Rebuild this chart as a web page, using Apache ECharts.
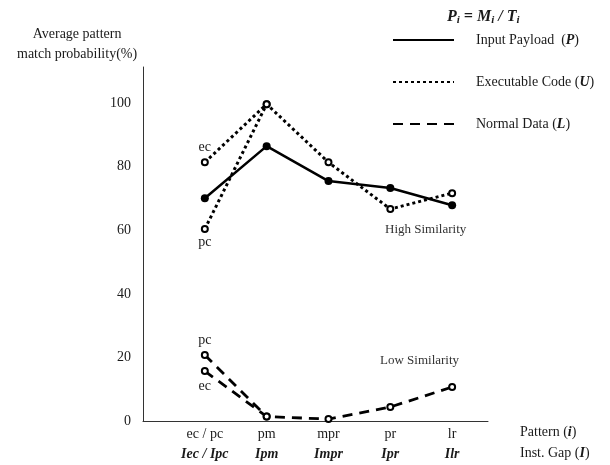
<!DOCTYPE html>
<html>
<head>
<meta charset="utf-8">
<script src="https://cdn.jsdelivr.net/npm/echarts@6/dist/echarts.min.js"></script>
<style>
  html, body { margin: 0; padding: 0; background: #fff; }
  #main { width: 610px; height: 465px; }
</style>
</head>
<body>
<div id="main"></div>
<script>
// pattern categories and instruction gap names
var categories = ['ec / pc', 'pm', 'mpr', 'pr', 'lr'];
var gapLabels = ['Iec / Ipc', 'Ipm', 'Impr', 'Ipr', 'Ilr'];

// values (%)
var payload = [70.1, 86.5, 75.5, 73.3, 67.9];
var execCode = [81.4, 99.7, 81.4, 66.7, 71.7];   // starts at ec
var execCodePc = [60.4, 99.7];                     // pc branch
var normalData = [15.7, 1.4, 0.6, 4.4, 10.7];     // starts at ec
var normalDataPc = [20.8, 1.4];                    // pc branch

var FONT = '"Liberation Serif", "DejaVu Serif", serif';
var TXT = '#1a1a1a';

function pts(arr, labelFirst) {
  return arr.map(function (v, i) {
    var item = { value: [i, v] };
    if (i === 0 && labelFirst) {
      item.label = {
        show: true, position: labelFirst.pos, distance: labelFirst.dist || 5,
        formatter: labelFirst.text, fontFamily: FONT, fontSize: 14, color: TXT
      };
    }
    return item;
  });
}

var chart = echarts.init(document.getElementById('main'));

var legendLetter = {
  'Input Payload': ['Input Payload  (', 'P', ')'],
  'Executable Code': ['Executable Code (', 'U', ')'],
  'Normal Data': ['Normal Data (', 'L', ')']
};

var option = {
  animation: false,
  backgroundColor: '#fff',
  grid: { left: 143, right: 122, top: 67, bottom: 44 },
  title: {
    text: '{v|P}{s|i}{v| = M}{s|i}{v| / T}{s|i}',
    left: 442, top: 2,
    textStyle: {
      rich: {
        v: { fontFamily: FONT, fontSize: 16, fontWeight: 'bold', fontStyle: 'italic', color: TXT },
        s: { fontFamily: FONT, fontSize: 11, fontWeight: 'bold', fontStyle: 'italic', color: TXT, padding: [8, 0, 0, 0] }
      }
    }
  },
  legend: {
    orient: 'vertical',
    left: 387, top: 28,
    itemWidth: 61, itemHeight: 14, itemGap: 28,
    data: ['Input Payload', 'Executable Code', 'Normal Data'],
    itemStyle: { opacity: 0 },
    formatter: function (name) {
      var p = legendLetter[name];
      return '{t|' + p[0] + '}{b|' + p[1] + '}{t|' + p[2] + '}';
    },
    textStyle: {
      padding: [0, 0, 0, 17],
      rich: {
        t: { fontFamily: FONT, fontSize: 14, color: TXT },
        b: { fontFamily: FONT, fontSize: 14, color: TXT, fontWeight: 'bold', fontStyle: 'italic' }
      }
    }
  },
  xAxis: {
    type: 'value',
    min: -1, max: 4.58, interval: 1,
    splitLine: { show: false },
    axisTick: { show: false },
    axisLine: { show: true, onZero: false, lineStyle: { color: '#333', width: 1 } },
    axisLabel: {
      margin: 3,
      showMaxLabel: false,
      formatter: function (v) {
        if (v < 0 || v > 4 || v !== Math.round(v)) return '';
        return '{a|' + categories[v] + '}\n{b|' + gapLabels[v] + '}';
      },
      rich: {
        a: { fontFamily: FONT, fontSize: 14, color: TXT, lineHeight: 20 },
        b: { fontFamily: FONT, fontSize: 14, color: TXT, fontWeight: 'bold', fontStyle: 'italic', lineHeight: 20 }
      }
    }
  },
  yAxis: {
    type: 'value',
    min: 0, max: 111.4, interval: 20,
    splitLine: { show: false },
    axisTick: { show: false },
    axisLine: { show: true, onZero: false, lineStyle: { color: '#333', width: 1 } },
    axisLabel: {
      margin: 12,
      showMaxLabel: false,
      fontFamily: FONT, fontSize: 14, color: TXT,
      formatter: function (v) { return v % 20 === 0 ? String(v) : ''; }
    }
  },
  graphic: [
    {
      type: 'text', left: 17, top: 24,
      style: { text: 'Average pattern\nmatch probability(%)', font: '14px ' + FONT, fill: TXT, textAlign: 'center', lineHeight: 20 }
    },
    {
      type: 'text', left: 385, top: 223,
      style: { text: 'High Similarity', font: '13px ' + FONT, fill: '#333' }
    },
    {
      type: 'text', left: 380, top: 354,
      style: { text: 'Low Similarity', font: '13px ' + FONT, fill: '#333' }
    },
    {
      type: 'text', left: 520, top: 425,
      style: {
        text: '{t|Pattern (}{b|i}{t|)}\n{t|Inst. Gap (}{b|I}{t|)}',
        rich: {
          t: { font: '14px ' + FONT, fill: TXT, lineHeight: 21 },
          b: { font: 'italic bold 14px ' + FONT, fill: TXT, lineHeight: 21 }
        }
      }
    }
  ],
  series: [
    {
      name: 'Input Payload', type: 'line',
      data: pts(payload),
      symbol: 'circle', symbolSize: 8,
      itemStyle: { color: '#000' },
      lineStyle: { color: '#000', width: 2.5, type: 'solid' }
    },
    {
      name: 'Executable Code', type: 'line',
      data: pts(execCode, { pos: 'top', text: 'ec', dist: 4 }),
      symbol: 'emptyCircle', symbolSize: 6,
      itemStyle: { color: '#000', borderWidth: 2 },
      lineStyle: { color: '#000', width: 3, type: [3, 3] }
    },
    {
      name: 'Executable Code (pc)', type: 'line',
      data: pts(execCodePc, { pos: 'bottom', text: 'pc', dist: 2 }),
      symbol: 'emptyCircle', symbolSize: 6,
      itemStyle: { color: '#000', borderWidth: 2 },
      lineStyle: { color: '#000', width: 3, type: [3, 3] }
    },
    {
      name: 'Normal Data', type: 'line',
      data: pts(normalData, { pos: 'bottom', text: 'ec', dist: 4 }),
      symbol: 'emptyCircle', symbolSize: 6,
      itemStyle: { color: '#000', borderWidth: 2 },
      lineStyle: { color: '#000', width: 2.8, type: [10, 7] }
    },
    {
      name: 'Normal Data (pc)', type: 'line',
      data: pts(normalDataPc, { pos: 'top', text: 'pc', dist: 4 }),
      symbol: 'emptyCircle', symbolSize: 6,
      itemStyle: { color: '#000', borderWidth: 2 },
      lineStyle: { color: '#000', width: 2.8, type: [10, 7] }
    }
  ]
};

chart.setOption(option);
</script>
</body>
</html>
